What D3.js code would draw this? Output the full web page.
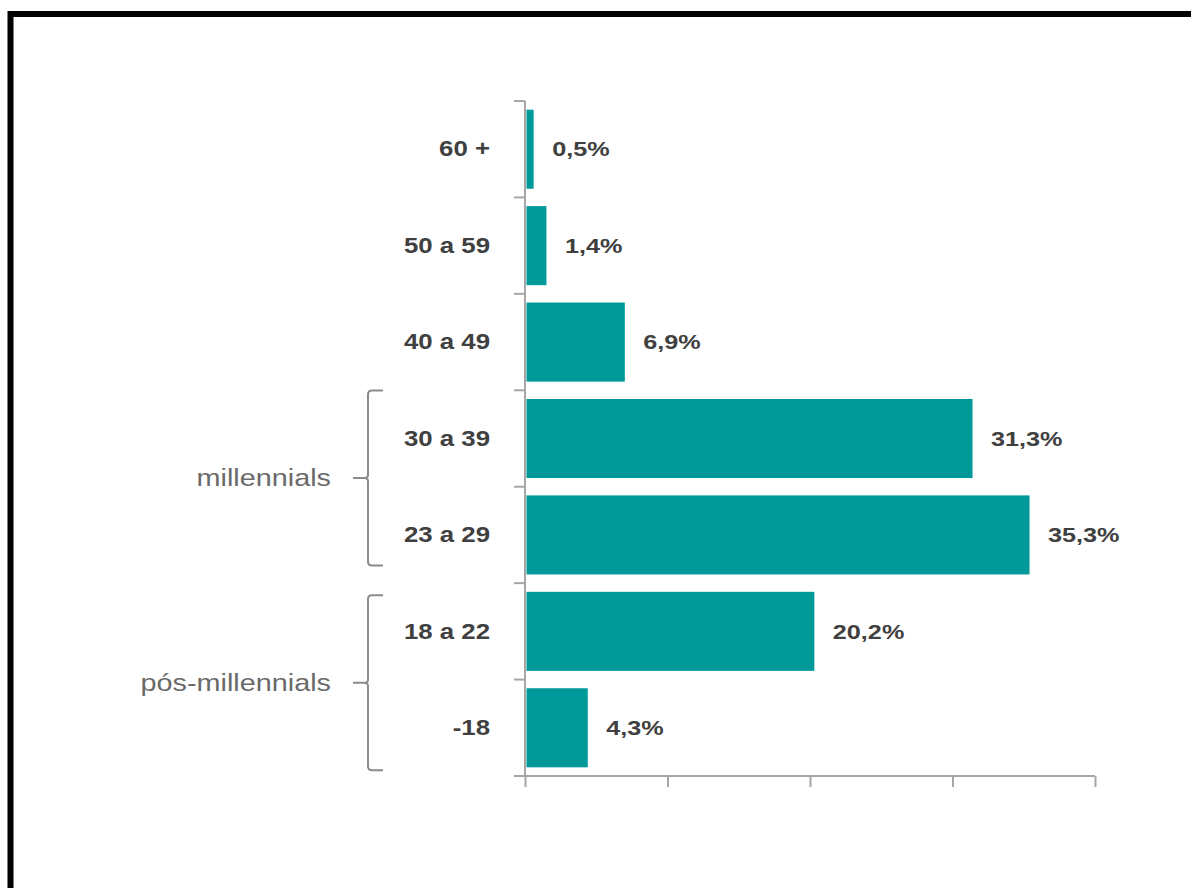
<!DOCTYPE html>
<html>
<head>
<meta charset="utf-8">
<script src="https://cdn.jsdelivr.net/npm/d3@7"></script>
<style>
  html, body { margin: 0; padding: 0; background: #fff; }
  svg { display: block; }
</style>
</head>
<body>
<svg id="chart" width="1191" height="888"></svg>
<script>
// Age brackets, top to bottom
const categories = ["60 +", "50 a 59", "40 a 49", "30 a 39", "23 a 29", "18 a 22", "-18"];
// Share of each age bracket (%)
const values = [0.5, 1.4, 6.9, 31.3, 35.3, 20.2, 4.3];
// Value labels as printed
const valueLabels = ["0,5%", "1,4%", "6,9%", "31,3%", "35,3%", "20,2%", "4,3%"];
// Generation groups spanning several brackets
const groupNames = ["millennials", "pós-millennials"];
const groupFirst = ["30 a 39", "18 a 22"];
const groupLast = ["23 a 29", "-18"];
// Tick values on the horizontal axis (unlabelled)
const xTicks = [0, 10, 20, 30, 40];

const svg = d3.select("#chart");
const teal = "#009999";
const axisGray = "#a6a6a6";
const textDark = "#404040";
const textGray = "#6a6a6a";
const stretch = 1.2;

// Frame
svg.append("rect")
  .attr("x", 10.5).attr("y", 14)
  .attr("width", 1300).attr("height", 1000)
  .attr("fill", "none").attr("stroke", "#000").attr("stroke-width", 6);

const x = d3.scaleLinear().domain([0, 40]).range([525, 1095]);
const y = d3.scaleBand().domain(categories).range([101, 776])
  .paddingInner(0.18).paddingOuter(0.09);
const bw = y.bandwidth();
const step = y.step();

// Bars
svg.append("g").selectAll("rect")
  .data(categories)
  .join("rect")
  .attr("x", x(0) + 1.5)
  .attr("y", d => y(d))
  .attr("width", (d, i) => x(values[i]) - x(0))
  .attr("height", bw)
  .attr("fill", teal);

// Horizontal axis (ticks only)
const xAxis = svg.append("g")
  .attr("transform", `translate(0,776)`)
  .call(d3.axisBottom(x).tickValues(xTicks).tickSize(11).tickSizeOuter(0).tickFormat(""));
xAxis.select(".domain").attr("stroke", axisGray).attr("stroke-width", 2)
  .attr("d", `M${x(0) - 11},0H${x(40)}`);
xAxis.selectAll(".tick line").attr("stroke", axisGray).attr("stroke-width", 2);

// Vertical axis with ticks between bands
const boundaries = categories.map(c => y(c) - step * 0.09).concat([776]);
const yAxis = svg.append("g");
yAxis.append("line")
  .attr("x1", x(0)).attr("x2", x(0))
  .attr("y1", boundaries[0]).attr("y2", 776)
  .attr("stroke", axisGray).attr("stroke-width", 2);
yAxis.selectAll("line.tk")
  .data(boundaries)
  .join("line").attr("class", "tk")
  .attr("x1", x(0) - 11).attr("x2", x(0))
  .attr("y1", d => d).attr("y2", d => d)
  .attr("stroke", axisGray).attr("stroke-width", 2);

function stretchedText(sel) {
  return sel.attr("x", 0).attr("y", 0);
}

// Category labels
svg.append("g").selectAll("text")
  .data(categories)
  .join("text")
  .attr("transform", d => `translate(490,${y(d) + bw / 2}) scale(${stretch},1)`)
  .call(stretchedText)
  .attr("text-anchor", "end")
  .attr("dominant-baseline", "central")
  .attr("font-family", "Liberation Sans, Arial, sans-serif")
  .attr("font-weight", "bold")
  .attr("font-size", 21.5)
  .attr("fill", textDark)
  .text(d => d);

// Value labels
svg.append("g").selectAll("text")
  .data(categories)
  .join("text")
  .attr("transform", (d, i) => `translate(${x(values[i]) + 20},${y(d) + bw / 2}) scale(${stretch},1)`)
  .call(stretchedText)
  .attr("dominant-baseline", "central")
  .attr("font-family", "Liberation Sans, Arial, sans-serif")
  .attr("font-weight", "bold")
  .attr("font-size", 21)
  .attr("fill", textDark)
  .text((d, i) => valueLabels[i]);

// Group brackets
const bracketShift = [-8.5, 3.5];
groupNames.forEach((name, i) => {
  const top = y(groupFirst[i]) + bracketShift[i];
  const bot = y(groupLast[i]) + bw + bracketShift[i] - 0.5;
  const mid = (top + bot) / 2;
  const vx = 368, hx = 383, r = 4;
  const path = `M${hx},${top} H${vx + r} Q${vx},${top} ${vx},${top + r}` +
    ` V${mid - 3} Q${vx},${mid} ${vx - 4},${mid} H${vx - 15}` +
    ` M${vx - 4},${mid} Q${vx},${mid} ${vx},${mid + 3}` +
    ` V${bot - r} Q${vx},${bot} ${vx + r},${bot} H${hx}`;
  svg.append("path")
    .attr("d", path)
    .attr("fill", "none")
    .attr("stroke", "#8c8c8c")
    .attr("stroke-width", 2);
  svg.append("text")
    .attr("transform", `translate(331,${mid}) scale(${stretch},1)`)
    .call(stretchedText)
    .attr("text-anchor", "end")
    .attr("dominant-baseline", "central")
    .attr("font-family", "Liberation Sans, Arial, sans-serif")
    .attr("font-size", 24)
    .attr("fill", textGray)
    .text(name);
});
</script>
</body>
</html>
